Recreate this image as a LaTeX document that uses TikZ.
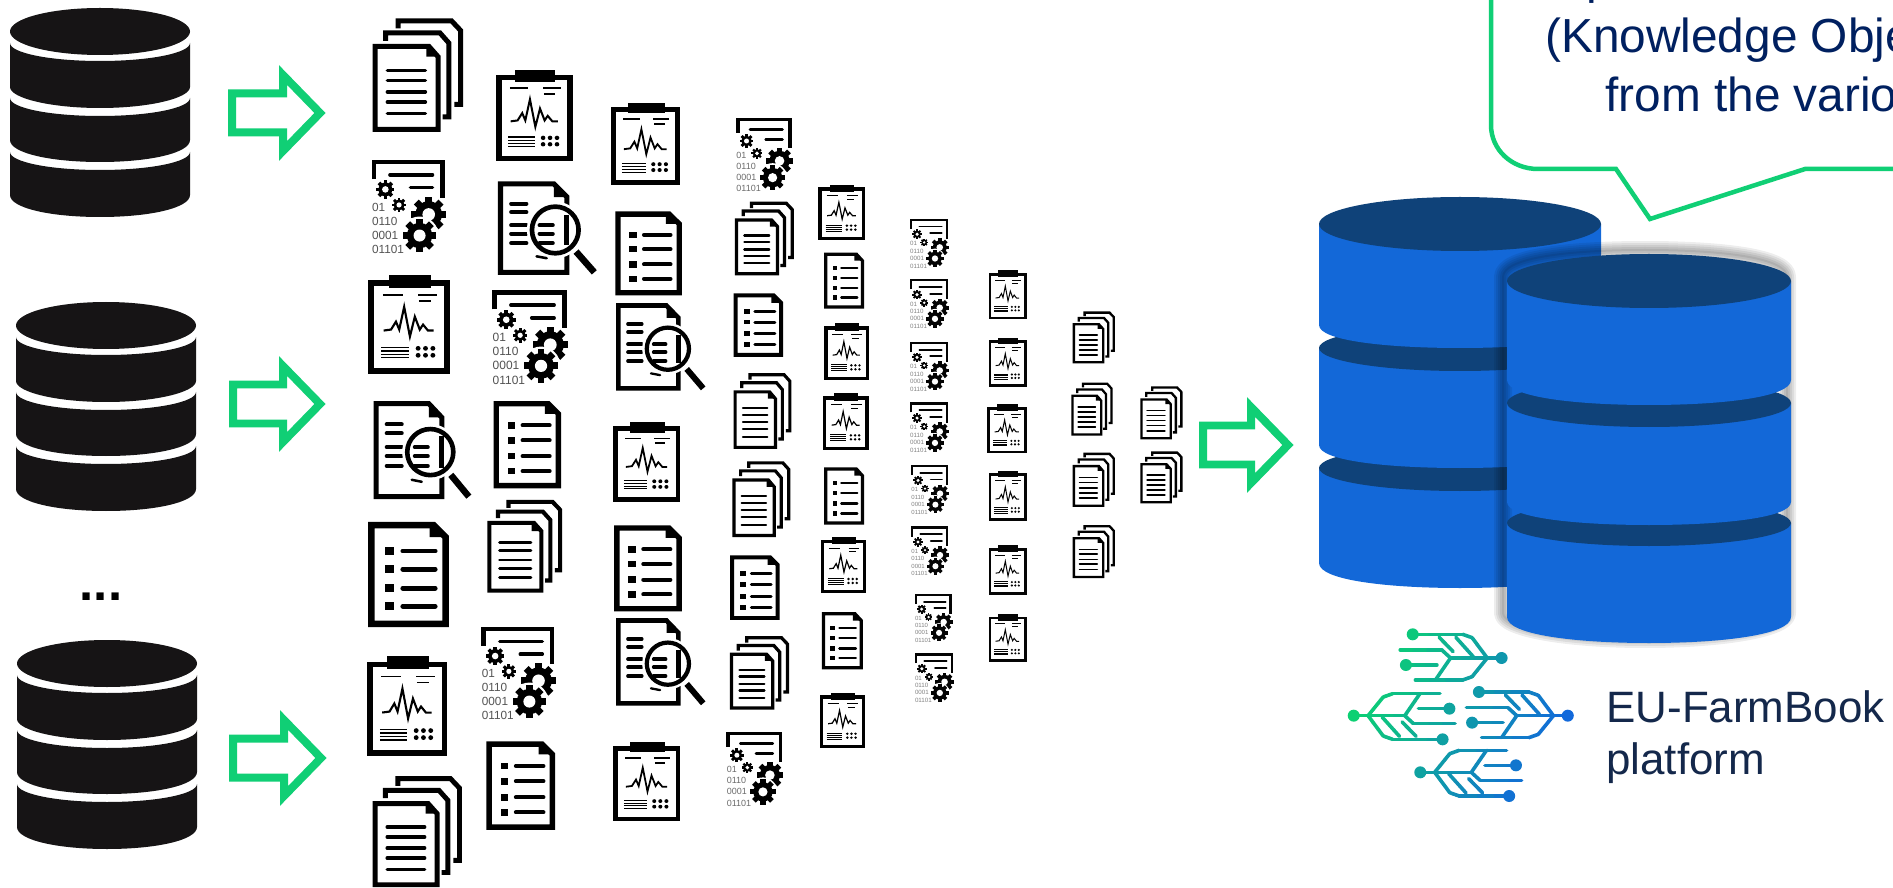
\documentclass[tikz,border=0pt]{standalone}
\usepackage{fontspec}
\setmainfont{Liberation Sans}
\usetikzlibrary{calc}
\definecolor{cgreen}{HTML}{10CF75}
\definecolor{dbblack}{HTML}{161415}
\definecolor{dbside}{HTML}{1368D8}
\definecolor{dbtop}{HTML}{0F4279}
\definecolor{navy}{HTML}{002060}
\definecolor{ink}{HTML}{14284B}
\definecolor{lgreen}{HTML}{0CD073}
\definecolor{lblue}{HTML}{1268DC}
\newcounter{binc}
\tikzset{
  iconunits/.style={x=0.024146cm,y=-0.024146cm},
  greenarrow/.style={draw=cgreen,line width=8*0.569pt,miter limit=10,line join=miter},
  bigtext/.style={inner sep=0,anchor=base west,font=\fontsize{27.2pt}{27.2pt}\selectfont,text=navy},
  eutext/.style={inner sep=0,anchor=base west,font=\fontsize{25pt}{25pt}\selectfont,text=ink}
}
% ---------- helpers
\newcommand\icsetup[4]{%
  \stepcounter{binc}%
  \pgfmathsetmacro\icw{(#3-#1)*0.687/100}%
  \pgfmathsetmacro\ich{(#4-#2)*0.687/100}%
  \pgfmathtruncatemacro\ick{min(100,60+(#3-#1)*1.2)}%
  \colorlet{ic}{black!\ick!white}%
}
\newcommand\gearic[3]{%
  \begin{scope}[shift={(#1,#2)},x=\icw pt,y=\icw pt]
    \fill[ic] (0,0) circle[radius=#3*0.76];
    \foreach \gang in {0,45,...,315}{\fill[ic,rotate=\gang] (-#3*0.2,0) rectangle (#3*0.2,#3);}
    \fill[white] (0,0) circle[radius=#3*0.36];
  \end{scope}}
\newcommand\stackic[4]{\icsetup{#1}{#2}{#3}{#4}%
  \begin{scope}[shift={(#1,#2)},x=\icw pt,y=-\ich pt,line join=miter]
    \draw[ic,line width=5.5*\icw pt] (28,9)--(28,2.5)--(87,2.5)--(97,11)--(97,76)--(90,76);
    \draw[ic,line width=5.5*\icw pt] (14,20)--(14,13)--(74,13)--(84,22)--(84,87)--(77,87);
    \draw[ic,line width=5.5*\icw pt,fill=white] (2.5,25)--(62,25)--(72,34)--(72,98)--(2.5,98)--cycle;
    \fill[ic] (59,25)--(72,34)--(59,34)--cycle;
    \foreach \ly in {46,55,65,74,84}{\draw[ic,line width=3.8*\icw pt,line cap=round] (16,\ly)--(58,\ly);}
  \end{scope}}
\newcommand\listic[4]{\icsetup{#1}{#2}{#3}{#4}%
  \begin{scope}[shift={(#1,#2)},x=\icw pt,y=-\ich pt,line join=miter]
    \draw[ic,line width=8*\icw pt] (4,3.5)--(81,3.5)--(96,15)--(96,96.5)--(4,96.5)--cycle;
    \fill[ic] (76,3.5)--(96,15)--(76,15)--cycle;
    \foreach \ly in {28,45,63,80}{
      \fill[ic] (21,\ly-3.8) rectangle (32,\ly+3.8);
      \draw[ic,line width=6*\icw pt,line cap=round] (43,\ly)--(83,\ly);}
  \end{scope}}
\newcommand\chartic[4]{\icsetup{#1}{#2}{#3}{#4}%
  \begin{scope}[shift={(#1,#2)},x=\icw pt,y=-\ich pt,line join=miter]
    \draw[ic,line width=7*\icw pt] (4,8)--(96,8)--(96,96.5)--(4,96.5)--cycle;
    \fill[ic] (25,0) rectangle (77,13);
    \draw[ic,line width=2.2*\icw pt] (18,20)--(42,20) (61,20)--(84,20) (62,26)--(77,26);
    \draw[ic,line width=2.6*\icw pt] (19,56)--(28,55)--(34,47)--(38,55)--(44,32)--(51,62)--(57,42)--(63,55)--(67,50)--(73,56)--(80,56);
    \foreach \ly in {73,76.5,80,83.5}{\draw[ic,line width=1.6*\icw pt] (16,\ly)--(50,\ly);}
    \foreach \ly in {74,81}{\foreach \lx in {61,70,79}{\fill[ic] (\lx,\ly) circle[x radius=3,y radius=2.4];}}
  \end{scope}}
\newcommand\searchic[4]{\icsetup{#1}{#2}{#3}{#4}%
  \begin{scope}[shift={(#1,#2)},x=\icw pt,y=-\ich pt,line join=miter]
    \draw[ic,line width=5*\icw pt] (4.5,3)--(57,3)--(70,17)--(70,97)--(4.5,97)--cycle;
    \fill[ic] (57,3)--(70,17)--(57,17)--cycle;
    \foreach \ly in {24,33,47,56,66}{\draw[ic,line width=4*\icw pt,line cap=round] (15,\ly)--(30,\ly);}
    \begin{scope}[shift={(58.5,52)},x=\icw pt,y=\icw pt]
      \fill[white] (0,0) circle[radius=28];
    \end{scope}
    \foreach \ly in {47,56,66}{\draw[ic,line width=4*\icw pt,line cap=round] (43,\ly)--(56,\ly);}
    \draw[ic,line width=5*\icw pt] (70,36)--(70,68);
    \draw[ic,line width=2.5*\icw pt,line cap=round] (40,80)--(50,82);
    \begin{scope}[shift={(58.5,52)},x=\icw pt,y=\icw pt]
      \draw[ic,line width=4.6*\icw pt] (0,0) circle[radius=23];
    \end{scope}
    \draw[ic,line width=6.5*\icw pt] (79,75)--(97,97);
  \end{scope}}
\newcommand\codeic[4]{\icsetup{#1}{#2}{#3}{#4}%
  \pgfmathsetmacro\binfs{(#3-#1)*0.1065}%
  \pgfmathtruncatemacro\binkk{min(75,30+(#3-#1)*0.6)}%
  \begin{scope}[shift={(#1,#2)},x=\icw pt,y=-\ich pt,line join=miter]
    \draw[ic,line width=6*\icw pt] (3,21)--(3,3)--(93,3)--(93,41);
    \draw[ic,line width=4.6*\icw pt,line cap=round] (24,16.5)--(80,16.5) (51,30)--(80,30);
    \gearic{18}{32}{12}
    \gearic{36}{48.5}{9.5}
    \gearic{75}{58.6}{23}
    \begin{scope}[shift={(63,81)},x=\icw pt,y=\icw pt]\fill[white] (0,0) circle[radius=25];\end{scope}
    \gearic{63}{81}{22}
    \foreach \ty/\tt[count=\ti] in {51/01,66/0110,80.5/0001,96/01101}{
      \node[inner sep=0,anchor=west,text=black!\binkk!white,font=\fontsize{\binfs pt}{\binfs pt}\selectfont] (bin\thebinc-\ti) at (0,\ty) {\tt};}
  \end{scope}}
% ---------- databases
\newcommand\blackdb[3]{%
  \begin{scope}[shift={(#1,#2)},xscale=#3]
    \fill[dbblack] (90,23.5) ellipse[x radius=90,y radius=23.5];
    \fill[dbblack] (0,35) .. controls (0,45) and (40,53) .. (90,53) .. controls (140,53) and (180,45) .. (180,35) -- (180,79) .. controls (180,90) and (140,100) .. (90,100) .. controls (40,100) and (0,90) .. (0,79) -- cycle;
    \fill[dbblack] (0,90) .. controls (0,100) and (40,108) .. (90,108) .. controls (140,108) and (180,100) .. (180,90) -- (180,132) .. controls (180,145) and (140,154) .. (90,154) .. controls (40,154) and (0,145) .. (0,132) -- cycle;
    \fill[dbblack] (0,144) .. controls (0,154) and (40,162) .. (90,162) .. controls (140,162) and (180,154) .. (180,144) -- (180,187) .. controls (180,200) and (140,209) .. (90,209) .. controls (40,209) and (0,200) .. (0,187) -- cycle;
  \end{scope}}
% tier: #1 cx #2 rx #3 top-edge y #4 ry #5 bottom-edge y #6 bottom drop
\newcommand\tier[6]{%
  \fill[dbside] (#1-#2,#3) -- (#1-#2,#5) .. controls (#1-#2,#5+#6*0.7) and (#1-#2*0.5,#5+#6) .. (#1,#5+#6) .. controls (#1+#2*0.5,#5+#6) and (#1+#2,#5+#6*0.7) .. (#1+#2,#5) -- (#1+#2,#3) -- cycle;
  \fill[dbtop] (#1,#3) ellipse[x radius=#2,y radius=#4];}
\newcommand\shadowsil[2]{% silhouette of front db
  \draw[black,opacity=#2,line width=#1*0.569pt,line join=round,shift={(-4,-4)}] (1507,281) .. controls (1507,262) and (1570,254) .. (1649,254) .. controls (1728,254) and (1791,262) .. (1791,281) -- (1791,617) .. controls (1791,632) and (1728,643) .. (1649,643) .. controls (1570,643) and (1507,632) .. (1507,617) -- cycle;}
\newcommand\garrow[3]{% left, tip(outer), centre y
  \draw[greenarrow] (#1+4,#3-19.5) -- (#2-43,#3-19.5) -- (#2-43,#3-38) -- (#2-6,#3) -- (#2-43,#3+38) -- (#2-43,#3+19.5) -- (#1+4,#3+19.5) -- cycle;}
% logo
\newcommand\logost[7]{% ax ay s x1 y1 x2 y2 (in zoom px)
  \foreach \kk in {0,1,2}{
    \pgfmathsetmacro\xpa{1300+(#1+#3*(#4+(#6-#4)*\kk/3-533))/2.644}
    \pgfmathsetmacro\ypa{600+(#2+#3*(#5+(#7-#5)*\kk/3-174))/3}
    \pgfmathsetmacro\xpb{1300+(#1+#3*(#4+(#6-#4)*(\kk+1)/3-533))/2.644}
    \pgfmathsetmacro\ypb{600+(#2+#3*(#5+(#7-#5)*(\kk+1)/3-174))/3}
    \pgfmathtruncatemacro\tpc{max(0,min(100,((\xpa+\xpb)/2-1354+0.5*((\ypa+\ypb)/2-716))/2.14))}
    \colorlet{lc}{lblue!\tpc!lgreen}
    \draw[lc,line width=3.6*0.569pt,line cap=round] (\xpa,\ypa)--(\xpb,\ypb);
  }}
\newcommand\logodot[5]{%
  \pgfmathsetmacro\xpa{1300+(#1+#3*(#4-533))/2.644}
  \pgfmathsetmacro\ypa{600+(#2+#3*(#5-174))/3}
  \pgfmathtruncatemacro\tpc{max(0,min(100,(\xpa-1354+0.5*(\ypa-716))/2.14))}
  \colorlet{lc}{lblue!\tpc!lgreen}
  \fill[lc] (\xpa,\ypa) circle[radius=6];}
\newcommand\leafic[3]{%
  \foreach \xa/\ya/\xb/\yb in {298/103/430/103,430/103/455/113,455/113/495/174,495/174/533/174,
      265/150/375/150,375/150/398/174,398/174/495/174,280/195/362/195,398/174/358/240,
      305/240/430/240,430/240/455/230,455/230/495/174,368/112/405/155,412/112/458/170}{
    \logost{#1}{#2}{#3}{\xa}{\ya}{\xb}{\yb}}
  \logodot{#1}{#2}{#3}{298}{103}\logodot{#1}{#2}{#3}{280}{195}\logodot{#1}{#2}{#3}{533}{174}}

\begin{document}
\begin{tikzpicture}[x=0.02cm,y=-0.02cm]
\useasboundingbox (0,0) rectangle (1893,888);
\fill[white] (0,0) rectangle (1893,888);
\begin{scope}
\clip (0,0) rectangle (1893,888);

% source databases
\blackdb{10}{8}{1}
\blackdb{16}{302}{1}
\blackdb{17}{640}{1}
\node[inner sep=0,font=\bfseries\fontsize{29pt}{29pt}\selectfont] (dots) at (101,597) {...};

% green arrows
\garrow{228}{326}{113}
\garrow{229}{326}{404}
\garrow{229}{327}{758}
\garrow{1199}{1294}{445}

% icons (coordinates in the 1568-wide view)
\begin{scope}[iconunits]
\stackic{309}{15}{384}{109}
\codeic{308}{132}{371}{210}
\chartic{305}{228}{373}{310}
\searchic{308}{332}{391}{414}
\listic{305}{432}{372}{520}
\chartic{304}{544}{371}{627}
\stackic{309}{643}{383}{735}
\chartic{411}{58}{475}{134}
\searchic{411}{150}{495}{228}
\codeic{408}{240}{472}{318}
\listic{409}{332}{465}{405}
\stackic{404}{414}{466}{491}
\codeic{399}{519}{462}{596}
\listic{403}{614}{460}{688}
\chartic{506}{85}{564}{154}
\listic{510}{175}{565}{245}
\searchic{509}{251}{585}{324}
\chartic{508}{350}{564}{416}
\listic{509}{435}{565}{507}
\searchic{509}{512}{585}{585}
\chartic{508}{615}{564}{681}
\codeic{610}{97}{658}{159}
\stackic{609}{167}{658}{228}
\listic{608}{243}{649}{296}
\stackic{608}{309}{656}{372}
\stackic{607}{382}{655}{445}
\listic{605}{460}{646}{514}
\stackic{605}{527}{654}{588}
\codeic{602}{606}{650}{668}
\chartic{678}{153}{717}{199}
\listic{683}{209}{716}{256}
\chartic{683}{268}{720}{315}
\chartic{682}{326}{720}{373}
\listic{683}{387}{716}{435}
\chartic{680}{445}{718}{492}
\listic{681}{507}{715}{555}
\chartic{679}{574}{717}{620}
\codeic{754}{181}{787}{222}
\codeic{754}{231}{787}{272}
\codeic{754}{283}{787}{324}
\codeic{754}{333}{787}{375}
\codeic{755}{385}{787}{426}
\codeic{755}{436}{787}{477}
\codeic{758}{492}{790}{532}
\codeic{758}{541}{791}{582}
\chartic{819}{224}{851}{265}
\chartic{819}{280}{851}{321}
\chartic{818}{335}{851}{376}
\chartic{819}{390}{851}{432}
\chartic{819}{452}{851}{493}
\chartic{819}{509}{851}{549}
\stackic{889}{258}{924}{301}
\stackic{888}{317}{922}{361}
\stackic{889}{375}{924}{420}
\stackic{889}{435}{924}{479}
\stackic{945}{320}{980}{364}
\stackic{945}{374}{980}{417}
\end{scope}

% callout
\draw[cgreen,line width=4.5*0.569pt,line join=miter] (1491,-10) -- (1491,125) .. controls (1491,150) and (1512,169) .. (1538,169) -- (1616,169) -- (1650,219) -- (1805,169) -- (1900,169);
\node[bigtext] (calloutp) at (1586,-6) {p};
\node[bigtext] (callouta) at (1545,53) {(Knowledge Obje};
\node[bigtext] (calloutb) at (1605,112) {from the vario};

% target databases
\tier{1460}{141}{468}{23}{563}{25}
\tier{1460}{141}{348}{23}{445}{23}
\tier{1460}{141}{224}{27}{325}{23}
\foreach \wd in {18,14,10,6,2}{\shadowsil{\wd}{0.07}}
\tier{1649}{142}{523}{23}{617}{26}
\tier{1649}{142}{403}{24}{502}{23}
\tier{1649}{142}{281}{27}{380}{25}

% logo
\leafic{533}{174}{1}
\leafic{708}{347}{1}
\leafic{142}{347}{-1}
\leafic{318}{517}{-1}

\node[eutext] (eua) at (1606,722) {EU-FarmBook};
\node[eutext] (eub) at (1606,774) {platform};
\end{scope}
\end{tikzpicture}
\end{document}
